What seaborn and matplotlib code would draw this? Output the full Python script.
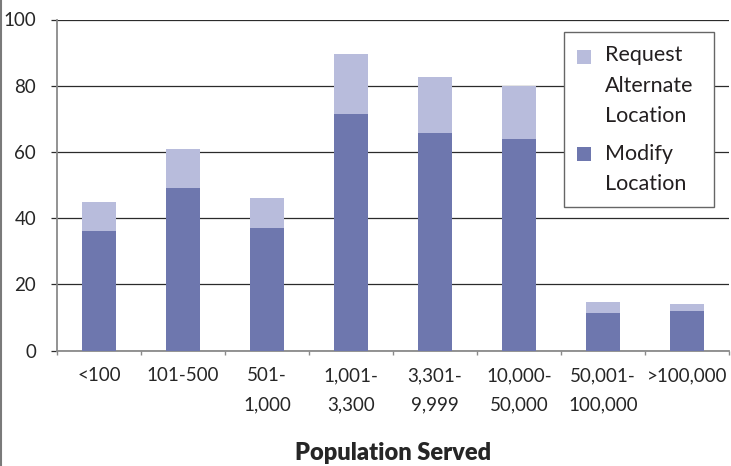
import matplotlib
matplotlib.use("Agg")
import matplotlib.pyplot as plt
from matplotlib.patches import Rectangle
from matplotlib.lines import Line2D
import numpy as np
import pandas as pd
import seaborn as sns

# Population-size categories (x axis)
categories = ["<100", "101-500", "501-\n1,000", "1,001-\n3,300", "3,301-\n9,999",
              "10,000-\n50,000", "50,001-\n100,000", ">100,000"]
# Stacked series
modify_location = [36, 49, 37, 71.5, 65.7, 64, 11.3, 12]
request_alternate = [9, 12, 9, 18, 17, 16, 3.3, 2]
y_ticks = [0, 20, 40, 60, 80, 100]
series_names = ["Request\nAlternate\nLocation", "Modify\nLocation"]
x_title = "Population Served"

DARK = "#6e77ae"
LIGHT = "#b8bcdc"

df = pd.DataFrame({
    "category": categories,
    "modify": modify_location,
    "request": request_alternate,
})
df["total"] = df["modify"] + df["request"]

sns.set_style("white")
plt.rcParams["font.family"] = ["Lato", "DejaVu Sans"]
plt.rcParams["text.color"] = "#231f20"

W, H = 731, 466
fig = plt.figure(figsize=(W / 100, H / 100), dpi=100)
ax = fig.add_axes([57 / W, 1 - 350.5 / H, 672 / W, 331 / H])

# Stack: full height in the light tone, lower segment in the dark tone
sns.barplot(data=df, x="category", y="total", color=LIGHT, saturation=1,
            width=0.4, linewidth=0, edgecolor="none", ax=ax, zorder=2)
sns.barplot(data=df, x="category", y="modify", color=DARK, saturation=1,
            width=0.4, linewidth=0, edgecolor="none", ax=ax, zorder=3)

ax.set_xlim(-0.5, len(categories) - 0.5)
ax.set_ylim(0, 100)
ax.set_yticks(y_ticks)
ax.yaxis.grid(True, color="#2b2b2b", lw=0.9, zorder=1)
ax.xaxis.grid(False)
ax.set_axisbelow(True)

for side in ("top", "right"):
    ax.spines[side].set_visible(False)
for side in ("left", "bottom"):
    ax.spines[side].set_color("#8a8a8a")
    ax.spines[side].set_linewidth(1.3)

ax.tick_params(axis="y", which="major", direction="out", length=4, width=0.9,
               color="#2b2b2b", labelsize=13.5, pad=11, left=True)
ax.set_xticks(range(len(categories)))
ax.set_xticklabels(categories, linespacing=1.9, va="top")
ax.set_xticks(np.arange(-0.5, len(categories), 1), minor=True)
ax.tick_params(axis="x", which="major", length=0, labelsize=13.5, pad=12)
ax.tick_params(axis="x", which="minor", direction="out", length=3, width=1,
               color="#8a8a8a", bottom=True)

ax.set_ylabel("")
ax.set_xlabel(x_title, fontsize=17, fontweight="heavy", va="center")
ax.xaxis.set_label_coords(0.5, -(453 - 350.5) / 331)

# Legend box with top-aligned markers
def fx(px):
    return px / W

def fy(py):
    return 1 - py / H

fig.add_artist(Rectangle((fx(564), fy(207)), fx(714) - fx(564), fy(32) - fy(207),
                         transform=fig.transFigure, facecolor="white",
                         edgecolor="#666666", lw=1.0, zorder=5))
legend_rows = [(LIGHT, 50, series_names[0], 61), (DARK, 146.7, series_names[1], 159.5)]
for color, sq_top, label, base in legend_rows:
    fig.add_artist(Rectangle((fx(577), fy(sq_top + 14)), fx(14), 14 / H,
                             transform=fig.transFigure, facecolor=color,
                             edgecolor="none", zorder=6))
    for i, line in enumerate(label.split("\n")):
        fig.text(fx(605), fy(base + i * 30.5), line, fontsize=15.5,
                 va="baseline", ha="left", zorder=7)

# Left border of the figure
fig.add_artist(Line2D([0.7 / W, 0.7 / W], [0, 1], transform=fig.transFigure,
                      color="#7a7a7a", lw=1.5))

fig.savefig("out.png", dpi=100)
